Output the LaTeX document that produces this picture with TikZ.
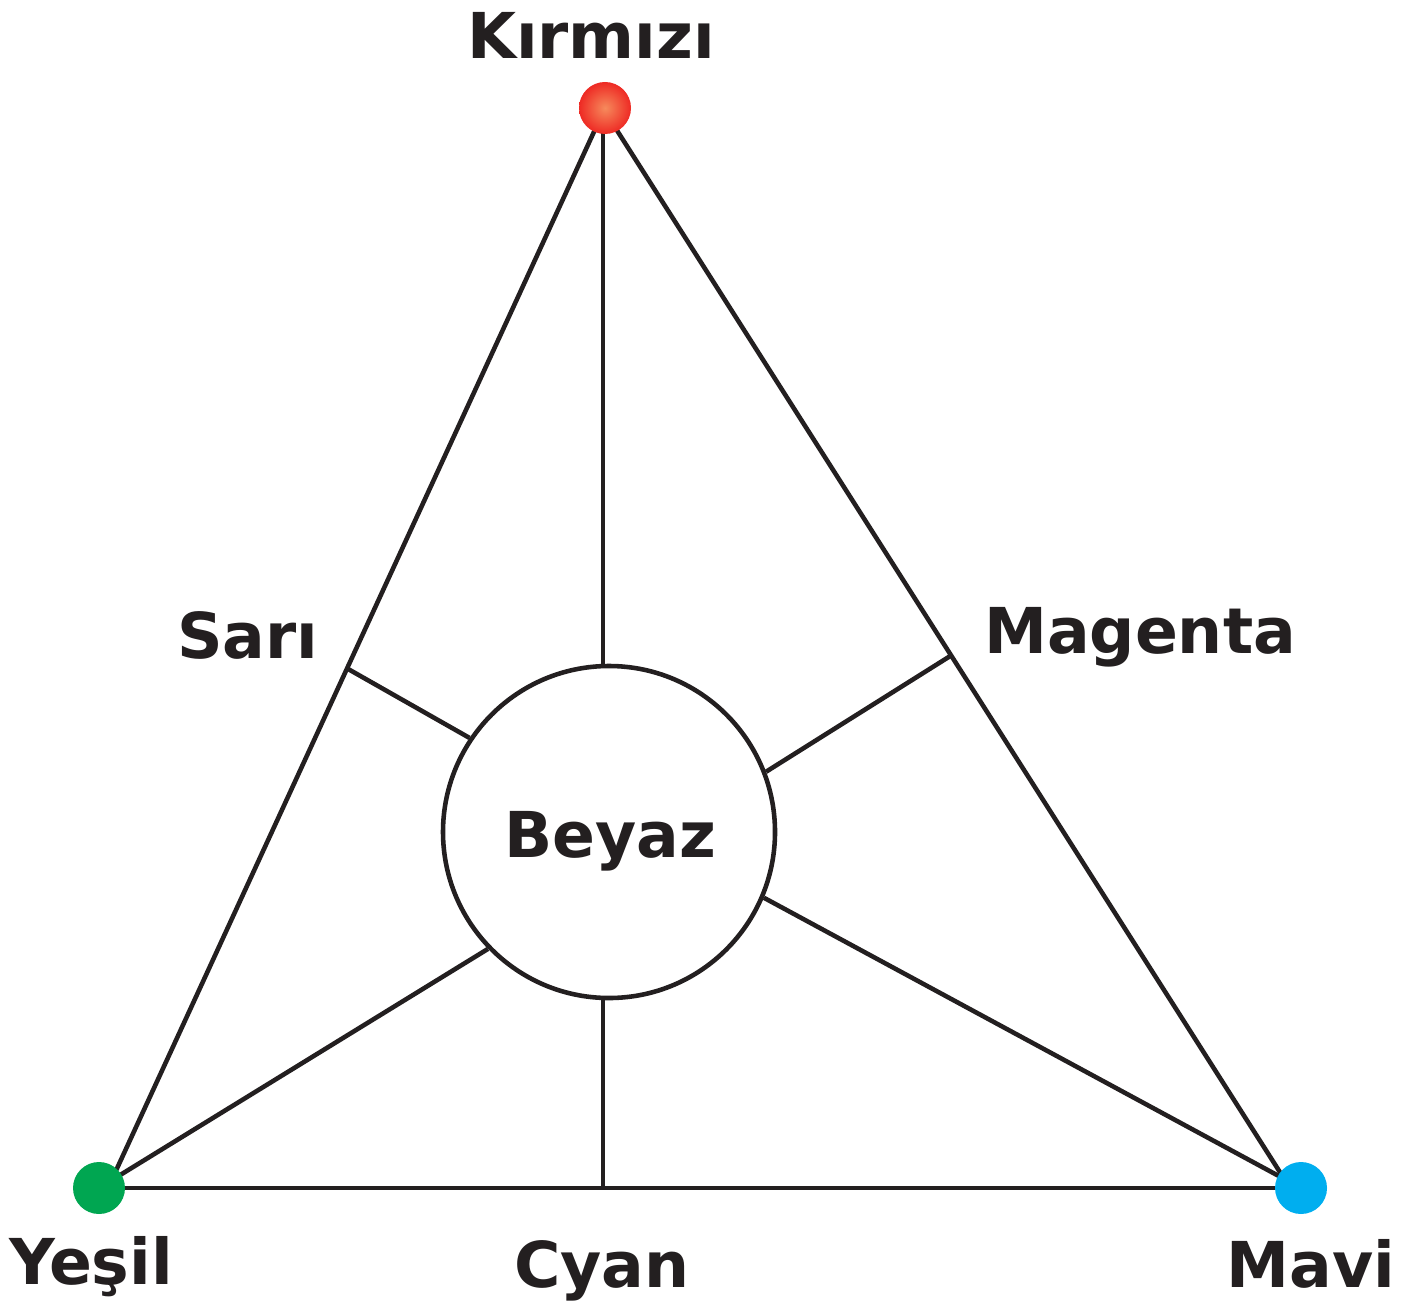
\documentclass[tikz,border=0pt]{standalone}
\usepackage{fontspec}
\setmainfont{DejaVu Sans}
\usepackage{tikz}
\usetikzlibrary{calc}
\definecolor{koyu}{HTML}{231F20}
\definecolor{yesilrenk}{HTML}{00A651}
\definecolor{mavirenk}{HTML}{00AEEF}
\definecolor{kirmizirenk}{HTML}{EE2A24}
\definecolor{turuncu}{HTML}{F68A5C}

\begin{document}
\begin{tikzpicture}[
    cizgi/.style={draw=koyu,line width=1.3pt},
    nokta/.style={circle,minimum size=0.52cm,inner sep=0pt},
    etiket/.style={anchor=base,text=koyu,font=\fontsize{18}{22}\selectfont\bfseries}]
          \useasboundingbox (0,0) rectangle (14.01,-13.11);
          \coordinate (kirmizi) at (6.05,-1.08);
          \coordinate (yesil) at (0.99,-11.88);
          \coordinate (mavi) at (13.01,-11.88);
          \coordinate (ust) at (6.04,-1.10);
          \coordinate (sol) at (1.08,-11.88);
          \coordinate (sag) at (12.90,-11.88);
          \coordinate (sari) at ($(ust)!0.518!(sol)$);
          \coordinate (magenta) at ($(ust)!0.506!(sag)$);

          \node[circle,cizgi,fill=white,minimum size=3.32cm,inner sep=0pt] (beyaz) at (6.09,-8.32) {};

          \draw[cizgi] (sol) -- (ust) -- (sag);
          \draw[cizgi] (yesil) -- (mavi);
          \draw[cizgi] (sari) -- (beyaz.146);
          \draw[cizgi] (magenta) -- (beyaz.21);
          \draw[cizgi] (beyaz.92) -- (beyaz.92 |- kirmizi);
          \draw[cizgi] (beyaz.268) -- (beyaz.268 |- yesil);
          \draw[cizgi] (beyaz.224) -- (yesil);
          \draw[cizgi] (beyaz.337) -- (mavi);

          \node[nokta,shading=radial,inner color=turuncu,outer color=kirmizirenk] (kirmizinokta) at (kirmizi) {};
          \node[nokta,fill=yesilrenk] (yesilnokta) at (yesil) {};
          \node[nokta,fill=mavirenk] (mavinokta) at (mavi) {};

          \node[etiket] (kirmiziyazi) at (5.91,-0.59) {Kırmızı};
          \node[etiket] (sariyazi) at (2.48,-6.58) {Sarı};
          \node[etiket] (magentayazi) at (11.40,-6.53) {Magenta};
          \node[etiket] (beyazyazi) at (6.10,-8.57) {Beyaz};
          \node[etiket] (yesilyazi) at (0.91,-12.84) {Yeşil};
          \node[etiket] (cyanyazi) at (6.02,-12.87) {Cyan};
          \node[etiket] (maviyazi) at (13.11,-12.87) {Mavi};
\end{tikzpicture}
\end{document}
